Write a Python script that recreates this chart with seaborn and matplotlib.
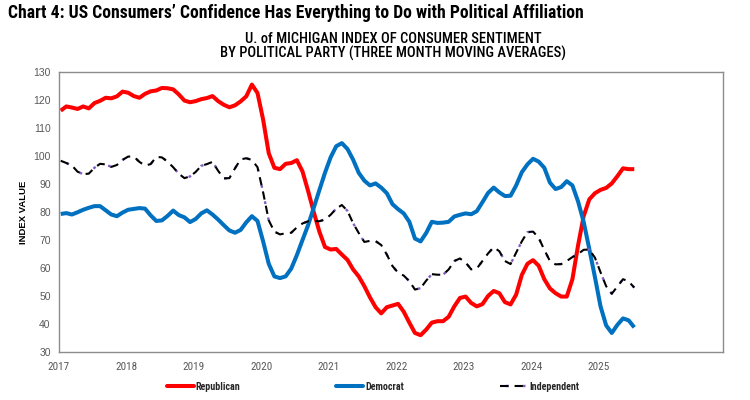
import numpy as np
import pandas as pd
import matplotlib
matplotlib.use("Agg")
import matplotlib.pyplot as plt
import seaborn as sns
from matplotlib.lines import Line2D
from matplotlib import font_manager

# ---------------- data ----------------
start_year = 2017
republican = [
    116.2, 117.7, 117.3, 116.8, 117.7, 117.0, 118.9, 119.7, 120.8, 120.6, 121.3, 123.0,
    122.6, 121.4, 120.8, 122.2, 123.1, 123.4, 124.3, 124.2, 123.8, 122.0, 119.8, 119.2,
    119.6, 120.3, 120.7, 121.4, 119.6, 118.3, 117.4, 118.1, 119.5, 121.3, 125.5, 122.5,
    113.0, 101.0, 95.8, 95.3, 97.2, 97.5, 98.5, 94.5, 87.5, 80.0, 73.0, 67.5,
    66.6, 66.8, 64.8, 62.9, 59.5, 57.0, 53.5, 49.5, 46.0, 43.8, 46.0, 46.6,
    47.2, 44.4, 40.5, 36.8, 36.0, 38.0, 40.5, 41.0, 41.0, 42.6, 46.3, 49.3,
    49.8, 47.5, 46.3, 47.1, 50.0, 51.8, 51.0, 47.8, 47.0, 50.5, 57.5, 61.5,
    62.8, 60.8, 56.0, 52.7, 51.0, 49.8, 49.8, 56.0, 68.0, 78.5, 84.5, 86.7,
    87.9, 88.6, 90.2, 92.8, 95.6, 95.3, 95.3,
]
democrat = [
    79.3, 79.6, 79.1, 79.9, 80.8, 81.5, 82.1, 82.1, 80.6, 79.1, 78.5, 79.8,
    80.8, 81.1, 81.4, 81.2, 78.8, 76.8, 77.0, 78.6, 80.5, 78.9, 78.1, 76.4,
    77.5, 79.5, 80.6, 79.1, 77.3, 75.3, 73.4, 72.6, 73.6, 76.3, 78.5, 76.8,
    69.5, 61.5, 57.0, 56.4, 57.0, 59.8, 64.6, 70.0, 75.3, 81.5, 87.8, 94.0,
    99.5, 103.5, 104.6, 102.5, 98.7, 94.0, 91.2, 89.5, 90.2, 88.7, 86.7, 82.8,
    81.0, 79.5, 76.5, 70.5, 69.5, 72.5, 76.5, 76.1, 76.2, 76.5, 78.4, 79.0,
    79.5, 79.2, 80.3, 83.5, 86.8, 88.7, 87.0, 85.7, 85.8, 89.5, 94.2, 97.0,
    99.0, 98.0, 95.8, 90.5, 88.2, 88.9, 91.0, 89.5, 83.8, 76.5, 66.8, 56.8,
    46.3, 39.5, 36.8, 39.7, 42.0, 41.3, 38.8,
]
independent = [
    98.3, 97.5, 96.6, 94.4, 93.5, 93.7, 95.8, 97.2, 97.0, 96.1, 96.8, 98.6,
    99.8, 99.8, 97.9, 96.6, 97.1, 99.7, 99.5, 98.0, 96.0, 93.7, 92.1, 92.7,
    94.3, 96.5, 97.1, 97.9, 94.7, 92.0, 92.1, 95.6, 98.8, 99.2, 98.6, 96.0,
    87.0, 77.0, 73.0, 72.0, 72.4, 72.6, 74.5, 75.9, 76.7, 76.8, 76.7, 77.3,
    79.0, 81.2, 82.5, 80.4, 76.0, 72.5, 69.3, 69.7, 69.6, 68.2, 64.8, 60.7,
    58.3, 57.3, 55.3, 52.3, 52.8, 55.5, 57.8, 57.6, 57.6, 59.5, 62.5, 63.4,
    62.0, 59.5, 59.8, 62.5, 65.2, 67.4, 66.0, 62.5, 61.4, 65.5, 69.5, 72.8,
    73.0, 70.8, 66.5, 62.5, 61.3, 61.4, 62.5, 63.9, 65.0, 66.5, 66.6, 63.7,
    58.5, 53.5, 50.8, 53.4, 56.0, 55.2, 53.0,
]
year_ticks = list(range(2017, 2027))
year_labels = [str(y) for y in range(2017, 2026)] + [""]
y_ticks = list(range(30, 131, 10))

title = "Chart 4: US Consumers\u2019 Confidence Has Everything to Do with Political Affiliation"
subtitle = "U. of MICHIGAN INDEX OF CONSUMER SENTIMENT\nBY POLITICAL PARTY (THREE MONTH MOVING AVERAGES)"

# ---------------- frame ----------------
n = len(republican)
month_idx = np.arange(n)
x = start_year + (month_idx + 0.3) / 12.0
df = pd.DataFrame({"x": x, "Republican": republican, "Democrat": democrat,
                   "Independent": independent})

sns.set_style("white")
names = {f.name for f in font_manager.fontManager.ttflist}
narrow = "DejaVu Sans"
for cand in ["Roboto Condensed", "Liberation Sans Narrow", "Arial Narrow", "Roboto"]:
    if cand in names:
        narrow = cand
        break
plain = "Liberation Sans" if "Liberation Sans" in names else "DejaVu Sans"
plt.rcParams["font.family"] = [plain, "DejaVu Sans"]

fig = plt.figure(figsize=(7.5, 4.0), dpi=100)
ax = fig.add_axes([59/750, 1-352/400, (723-59)/750, (352-72)/400])

RED = "#FF0000"
BLUE = "#0070C0"
PURPLE = "#8060C0"

sns.lineplot(data=df, x="x", y="Republican", ax=ax, color=RED, lw=2.9,
             solid_joinstyle="round", solid_capstyle="butt")
sns.lineplot(data=df, x="x", y="Democrat", ax=ax, color=BLUE, lw=2.9,
             solid_joinstyle="round", solid_capstyle="butt")
sns.lineplot(data=df, x="x", y="Independent", ax=ax, color=PURPLE, lw=1.7,
             linestyle=(4.4, (1.2, 5.8)))
sns.lineplot(data=df, x="x", y="Independent", ax=ax, color="black", lw=1.5,
             linestyle=(0, (4.0, 3.0)))

ax.set_xlim(2017, 2026.84)
ax.set_ylim(30, 130)
ax.set_xticks(year_ticks)
ax.set_xticklabels(year_labels, fontfamily=narrow, fontsize=8)
ax.set_yticks(y_ticks)
ax.set_yticklabels([str(v) for v in y_ticks], fontfamily=plain, fontsize=7.5)
ax.tick_params(axis="both", which="both", direction="out", length=4, width=0.8,
               color="#8C8C8C", labelcolor="#595959")
ax.tick_params(axis="y", pad=2)
ax.tick_params(axis="x", pad=3)
for s in ax.spines.values():
    s.set_color("#8C8C8C")
    s.set_linewidth(1.0)
ax.set_xlabel("")
ax.set_ylabel("INDEX VALUE", fontsize=6.8, fontweight="bold", color="black",
              family=[plain, "DejaVu Sans"], labelpad=4)
ax.grid(False)

t_title = fig.text(0.010, 0.968, title, fontsize=13, fontweight="bold",
                   family=[narrow, "DejaVu Sans"], ha="left", va="center", color="black")
t_sub = fig.text(0.524, 0.884, subtitle, fontsize=10, fontweight="medium",
                 family=[narrow, "DejaVu Sans"], ha="center", va="center",
                 color="black", linespacing=1.0)

# fit text widths to the reference's widths
fig.canvas.draw()
r = fig.canvas.get_renderer()
w = t_title.get_window_extent(r).width
t_title.set_fontsize(13 * 572 / w)
w = t_sub.get_window_extent(r).width
t_sub.set_fontsize(10 * 345 / w)

h_rep = Line2D([], [], color=RED, lw=2.9)
h_dem = Line2D([], [], color=BLUE, lw=2.9)
h_ind = (Line2D([], [], color=PURPLE, lw=1.7, linestyle=(4.4, (1.2, 5.8))),
         Line2D([], [], color="black", lw=1.5, linestyle=(0, (4.0, 3.0))))
fig.legend([h_rep, h_dem, h_ind], ["Republican", "Democrat", "Independent"],
           loc="center", bbox_to_anchor=(0.497, 0.033), ncol=3, frameon=False,
           handlelength=2.7, handletextpad=0.2, columnspacing=9.6,
           prop={"family": narrow, "size": 7.2, "weight": "bold"})

fig.savefig("out.png", dpi=100)
